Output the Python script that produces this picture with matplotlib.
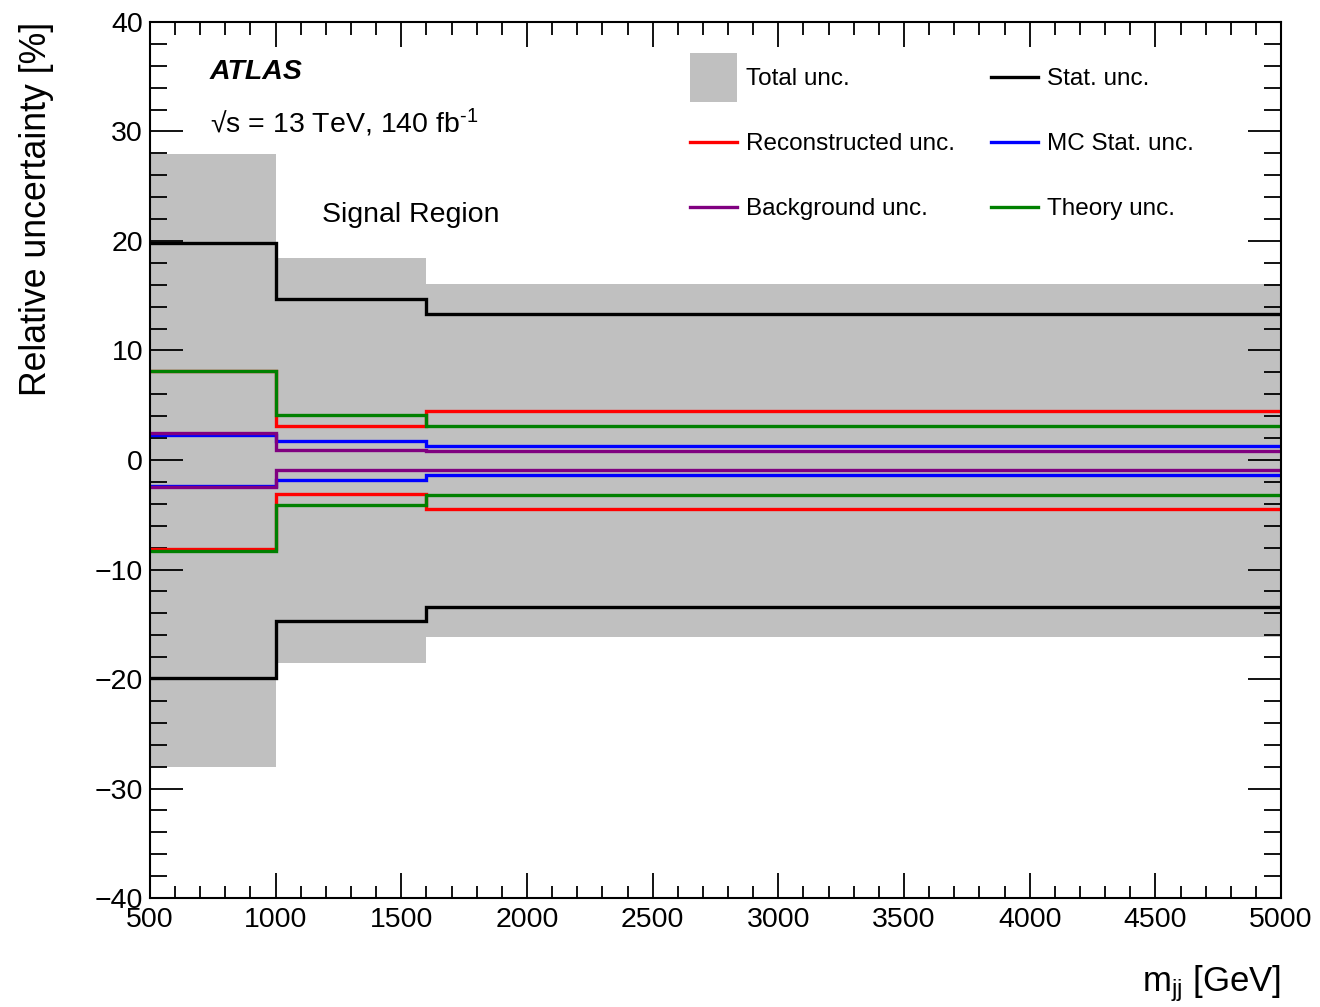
import matplotlib.pyplot as plt
import numpy as np
from matplotlib.legend_handler import HandlerLine2D
from matplotlib.lines import Line2D
from matplotlib.patches import Patch
from matplotlib.ticker import MultipleLocator

plt.rcParams["font.family"] = ["Liberation Sans", "DejaVu Sans"]
plt.rcParams["mathtext.fontset"] = "custom"
plt.rcParams["mathtext.rm"] = "Liberation Sans"
plt.rcParams["mathtext.it"] = "Liberation Sans:italic"

# m_jj bin edges [GeV]
MJJ_EDGES = [500, 1000, 1600, 5000]

# relative uncertainties per bin [%]
TOTAL_UP = [27.9, 18.4, 16.1]
TOTAL_DOWN = [-28.0, -18.5, -16.2]
STAT_UP = [19.8, 14.7, 13.3]
STAT_DOWN = [-19.9, -14.7, -13.4]
RECO_UP = [8.1, 3.1, 4.5]
RECO_DOWN = [-8.1, -3.1, -4.5]
MCSTAT_UP = [2.25, 1.75, 1.3]
MCSTAT_DOWN = [-2.35, -1.8, -1.4]
BKG_UP = [2.45, 0.9, 0.8]
BKG_DOWN = [-2.5, -0.95, -0.95]
THEORY_UP = [8.15, 4.1, 3.1]
THEORY_DOWN = [-8.3, -4.1, -3.2]

GREY = "#c0c0c0"
LW = 2.4


class CentredLine(HandlerLine2D):
    # put legend lines level with the middle of the label text
    def create_artists(self, legend, orig_handle, xdescent, ydescent,
                       width, height, fontsize, trans):
        arts = super().create_artists(legend, orig_handle, xdescent, ydescent,
                                      width, height, fontsize, trans)
        for a in arts:
            a.set_ydata(np.asarray(a.get_ydata()) - 0.33 * fontsize)
        return arts


def make_plot():
    fig = plt.figure(figsize=(13.2, 10.07), dpi=100)
    ax = fig.add_axes([0.1136, 0.1082, 0.8569, 0.8700])

    ax.stairs(TOTAL_UP, MJJ_EDGES, baseline=TOTAL_DOWN, fill=True,
              color=GREY, lw=0, zorder=0.5)

    systs = [
        (STAT_UP, STAT_DOWN, "black"),
        (RECO_UP, RECO_DOWN, "#ff0000"),
        (MCSTAT_UP, MCSTAT_DOWN, "#0000ff"),
        (BKG_UP, BKG_DOWN, "#800080"),
        (THEORY_UP, THEORY_DOWN, "#008000"),
    ]
    for i, (up, down, col) in enumerate(systs):
        for vals in (up, down):
            ax.stairs(vals, MJJ_EDGES, baseline=None, color=col, lw=LW,
                      zorder=2 + 0.1 * i)

    ax.set_xlim(500, 5000)
    ax.set_ylim(-40, 40)
    ax.xaxis.set_major_locator(MultipleLocator(500))
    ax.xaxis.set_minor_locator(MultipleLocator(100))
    ax.yaxis.set_major_locator(MultipleLocator(10))
    ax.yaxis.set_minor_locator(MultipleLocator(2))
    ax.tick_params(which="both", direction="in", top=True, right=True,
                   width=1.3, labelsize=20.5)
    ax.tick_params(axis="x", which="major", length=18, pad=6.5)
    ax.tick_params(axis="x", which="minor", length=9)
    ax.tick_params(axis="y", which="major", length=24, pad=5)
    ax.tick_params(axis="y", which="minor", length=12)
    for sp in ax.spines.values():
        sp.set_linewidth(1.5)

    ax.set_xlabel(r"m$_{\mathrm{jj}}$ [GeV]", loc="right", fontsize=25,
                  labelpad=22)
    ax.set_ylabel("Relative uncertainty [%]", loc="top", fontsize=25.7,
                  labelpad=29)

    ax.text(0.053, 0.935, "ATLAS", transform=ax.transAxes, fontsize=20.5,
            fontweight="bold", fontstyle="italic", va="baseline")
    ax.text(0.053, 0.873, "\u221as = 13 TeV, 140 fb$^{\\text{-1}}$",
            transform=ax.transAxes, fontsize=20.5, va="baseline")
    ax.text(0.152, 0.772, "Signal Region", transform=ax.transAxes,
            fontsize=20.5, va="baseline")

    leg_kw = dict(loc="upper left", frameon=False, borderpad=0,
                  borderaxespad=0, handlelength=1.94, handleheight=2.73,
                  labelspacing=0.66, handletextpad=0.37, fontsize=17.5,
                  handler_map={Line2D: CentredLine()})
    h1 = [Patch(facecolor=GREY, edgecolor="none"),
          Line2D([], [], color="#ff0000", lw=LW),
          Line2D([], [], color="#800080", lw=LW)]
    l1 = ["Total unc.", "Reconstructed unc.", "Background unc."]
    h2 = [Line2D([], [], color="black", lw=LW),
          Line2D([], [], color="#0000ff", lw=LW),
          Line2D([], [], color="#008000", lw=LW)]
    l2 = ["Stat. unc.", "MC Stat. unc.", "Theory unc."]
    leg1 = ax.legend(h1, l1, bbox_to_anchor=(0.4775, 0.9646), **leg_kw)
    ax.add_artist(leg1)
    ax.legend(h2, l2, bbox_to_anchor=(0.7436, 0.9646), **leg_kw)

    fig.savefig("out.png", dpi=100)


if __name__ == "__main__":
    make_plot()
